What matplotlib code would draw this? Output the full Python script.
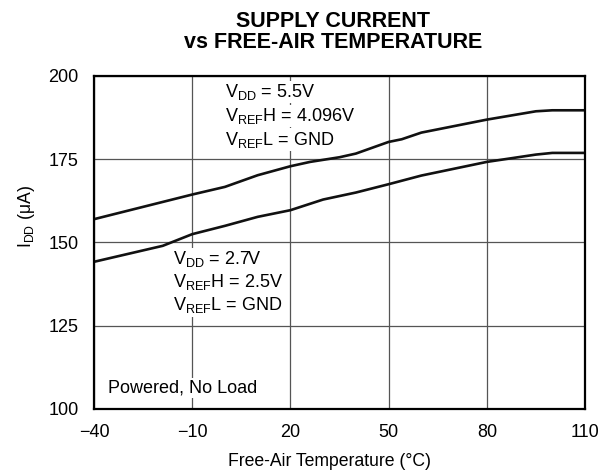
import matplotlib
matplotlib.use("Agg")
import matplotlib.pyplot as plt

plt.rcParams['font.family'] = ['Liberation Sans', 'DejaVu Sans']
plt.rcParams['mathtext.fontset'] = 'custom'
plt.rcParams['mathtext.rm'] = 'Liberation Sans'
plt.rcParams['mathtext.it'] = 'Liberation Sans'

# V_DD = 5.5 V curve
temp_hi = [-40, -10, 0, 10, 20, 26, 35, 40, 50, 54, 60, 80, 95, 100, 110]
idd_hi = [157, 164.4, 166.7, 170.2, 172.9, 174.2, 175.6, 176.7, 180.2, 181,
          183, 186.9, 189.4, 189.7, 189.7]

# V_DD = 2.7 V curve
temp_lo = [-40, -19, -10, 0, 10, 20, 30, 40, 50, 60, 80, 95, 100, 110]
idd_lo = [144.2, 149, 152.5, 155, 157.7, 159.7, 162.9, 165, 167.5, 170.1,
          174.2, 176.4, 176.9, 176.9]

x_ticks = [-40, -10, 20, 50, 80, 110]
y_ticks = [100, 125, 150, 175, 200]

fig = plt.figure(figsize=(6.03, 4.72), dpi=100)
ax = fig.add_axes([0.1559, 0.1335, 0.8143, 0.7055])

ax.plot(temp_hi, idd_hi, color='#111111', lw=1.9, zorder=3)
ax.plot(temp_lo, idd_lo, color='#111111', lw=1.9, zorder=3)

ax.set_xlim(-40, 110)
ax.set_ylim(100, 200)
ax.set_xticks(x_ticks)
ax.set_yticks(y_ticks)
ax.tick_params(length=0, labelsize=13)
ax.tick_params(axis='x', pad=11)
ax.tick_params(axis='y', pad=11)
ax.grid(True, color='#555555', lw=0.9)
for s in ax.spines.values():
    s.set_linewidth(1.6)
    s.set_zorder(4)

box = dict(facecolor='white', edgecolor='none', pad=1)
txt = dict(fontsize=13, va='center', ha='left', bbox=box, zorder=2)
ax.text(0, 195.2, r'V$_{\mathrm{DD}}$ = 5.5V', **txt)
ax.text(0, 188.0, r'V$_{\mathrm{REF}}$H = 4.096V', **txt)
ax.text(0, 180.9, r'V$_{\mathrm{REF}}$L = GND', **txt)
ax.text(-15.8, 145.0, r'V$_{\mathrm{DD}}$ = 2.7V', **txt)
ax.text(-15.8, 138.1, r'V$_{\mathrm{REF}}$H = 2.5V', **txt)
ax.text(-15.8, 131.2, r'V$_{\mathrm{REF}}$L = GND', **txt)
ax.text(-35.7, 106.3, 'Powered, No Load', **txt)

ax.set_xlabel('Free-Air Temperature (°C)', fontsize=12.7)
ax.xaxis.set_label_coords(0.48, -0.133)
ax.set_ylabel(r'I$_{\mathrm{DD}}$ (μA)', fontsize=12.7)
ax.yaxis.set_label_coords(-0.116, 0.577)

fig.text(0.553, 0.932, 'SUPPLY CURRENT\nvs FREE-AIR TEMPERATURE',
         ha='center', va='center', fontsize=15.5, fontweight='bold',
         linespacing=0.95)

fig.savefig('out.png', dpi=100)
